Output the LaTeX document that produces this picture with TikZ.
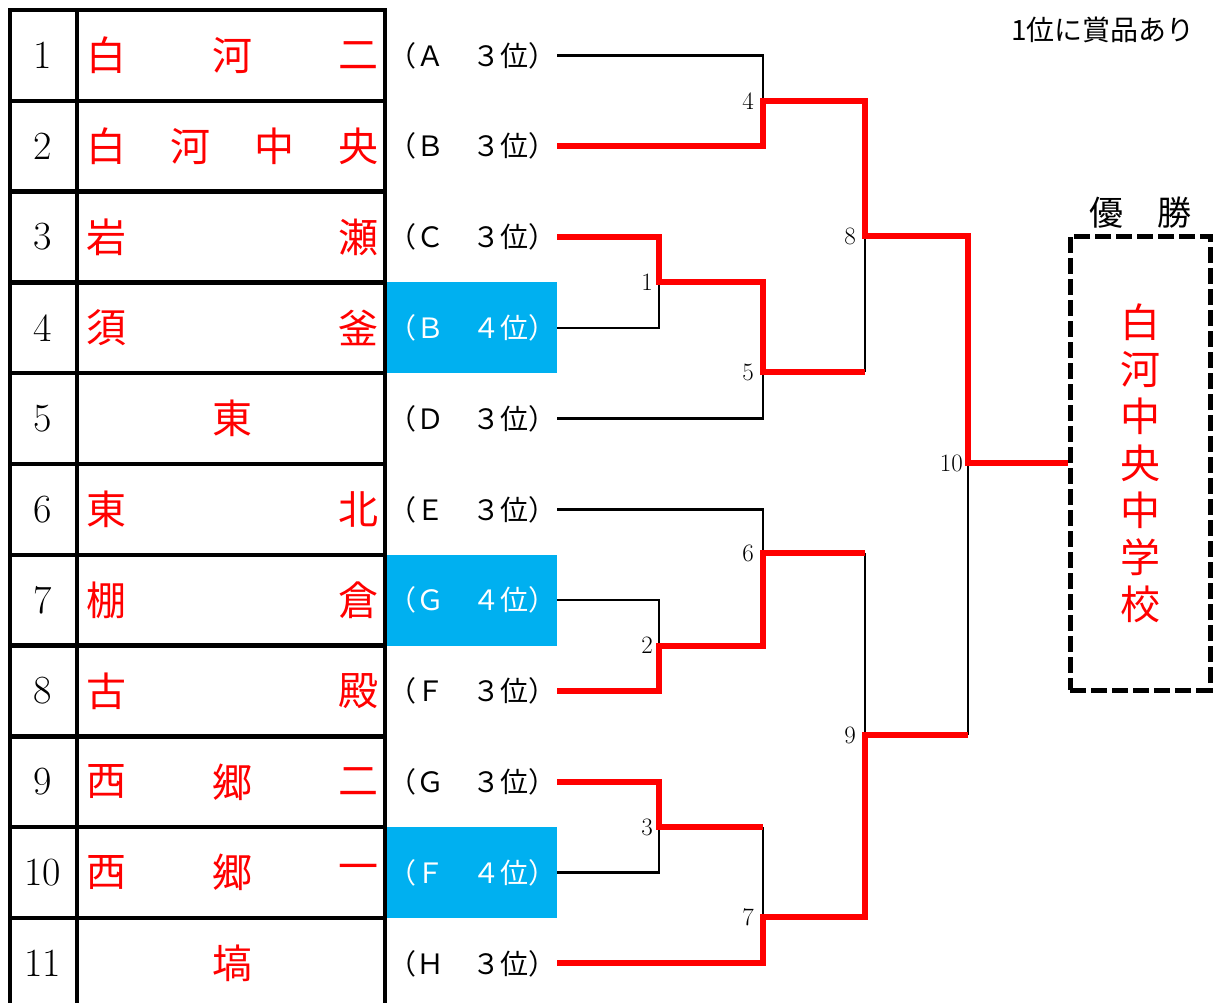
\documentclass[tikz,border=0pt]{standalone}
\usepackage{fontspec}
\newfontfamily\jp{Noto Sans CJK JP}
\definecolor{seedblue}{RGB}{0,176,240}
\begin{document}
\begin{tikzpicture}[x=1pt,y=-1pt,
  tbl/.style={line width=4.5pt},
  win/.style={red,line width=6pt},
  lose/.style={line width=2.4pt},
  school/.style={red,font=\jp\fontsize{40}{40}\selectfont},
  rownum/.style={font=\fontsize{40}{40}\selectfont},
  seed/.style={minimum width=170pt,minimum height=90.8pt,inner sep=0pt,font=\jp\fontsize{28}{28}\selectfont},
  seedhi/.style={seed,fill=seedblue,text=white},
  matchno/.style={anchor=east,inner sep=0pt,font=\fontsize{25}{25}\selectfont}]
\useasboundingbox (0,0) rectangle (1216,1002);
% table
\draw [tbl] (10,10) rectangle (385,1008.8);
\draw [tbl] (77,10) -- (77,1008.8);
\foreach \r in {1,...,10} {\draw [tbl] (10,{10+90.8*\r}) -- (385,{10+90.8*\r});}
\foreach \r in {1,...,11} {\node [rownum] (num\r) at (43,{10+90.8*(\r-0.5)}) {\r};}
\foreach \r/\x/\c in {1/106/白,1/232/河,1/358/二, 2/106/白,2/190/河,2/274/中,2/358/央,
  3/106/岩,3/358/瀬, 4/106/須,4/358/釜, 5/232/東, 6/106/東,6/358/北, 7/106/棚,7/358/倉,
  8/106/古,8/358/殿, 9/106/西,9/232/郷,9/358/二, 10/106/西,10/232/郷,10/358/一, 11/232/塙}
  {\node [school] (c\r-\x) at (\x,{10+90.8*(\r-0.5)}) {\c};}
% seeds
\foreach \r/\l/\p/\s in {1/Ａ/３/seed, 2/Ｂ/３/seed, 3/Ｃ/３/seed, 4/Ｂ/４/seedhi, 5/Ｄ/３/seed,
  6/Ｅ/３/seed, 7/Ｇ/４/seedhi, 8/Ｆ/３/seed, 9/Ｇ/３/seed, 10/Ｆ/４/seedhi, 11/Ｈ/３/seed}
  {\node [\s] (s\r) at (472,{10+90.8*(\r-0.5)}) {（\l{}　\p{}位）};}
% matches
\coordinate (m1) at (659,282.4);
\coordinate (m2) at (659,645.6);
\coordinate (m3) at (659,827.2);
\coordinate (m4) at (763,100.8);
\coordinate (m5) at (763,372);
\coordinate (m6) at (763,553);
\coordinate (m7) at (763,917);
\coordinate (m8) at (865,236);
\coordinate (m9) at (865,735);
\coordinate (m10) at (968,463);
\node [draw,line width=5pt,dash pattern=on 16pt off 5pt,minimum width=140pt,minimum height=454pt,
  inner sep=0pt,text=red,align=center,font=\jp\fontsize{40}{47}\selectfont] (champ) at (1140,463)
  {白\\河\\中\\央\\中\\学\\校};
\node [font=\jp\fontsize{34}{34}\selectfont] (yusho) at (1140,213) {優　勝};
\node [font=\jp\fontsize{28}{28}\selectfont] (prize) at (1103,30) {1位に賞品あり};
% losers
\draw [lose] (s1.east) -| (m4);
\draw [lose] (s4.east) -| (m1);
\draw [lose] (s5.east) -| (m5);
\draw [lose] (s6.east) -| (m6);
\draw [lose] (s7.east) -| (m2);
\draw [lose] (s10.east) -| (m3);
\draw [lose] (m5 -| m8) -- (m8);
\draw [lose] (m6 -| m9) -- (m9);
\draw [lose] (m3 -| m7) -- (m7);
\draw [lose] (m9 -| m10) -- (m10);
% winners
\draw [win] (s2.east) -| (m4) -| (m8) -| (m10) -- (champ.west);
\draw [win] (s3.east) -| (m1) -| (m5) -- (m5 -| m8);
\draw [win] (s8.east) -| (m2) -| (m6) -- (m6 -| m9);
\draw [win] (s9.east) -| (m3) -- (m3 -| m7);
\draw [win] (s11.east) -| (m7) -| (m9) -- (m9 -| m10);
\foreach \m/\d in {1/6,2/6,3/6,4/9,5/9,6/9,7/9,8/9,9/9,10/5}
  {\node [matchno] (l\m) at ([xshift=-\d pt]m\m) {\m};}
\end{tikzpicture}
\end{document}
